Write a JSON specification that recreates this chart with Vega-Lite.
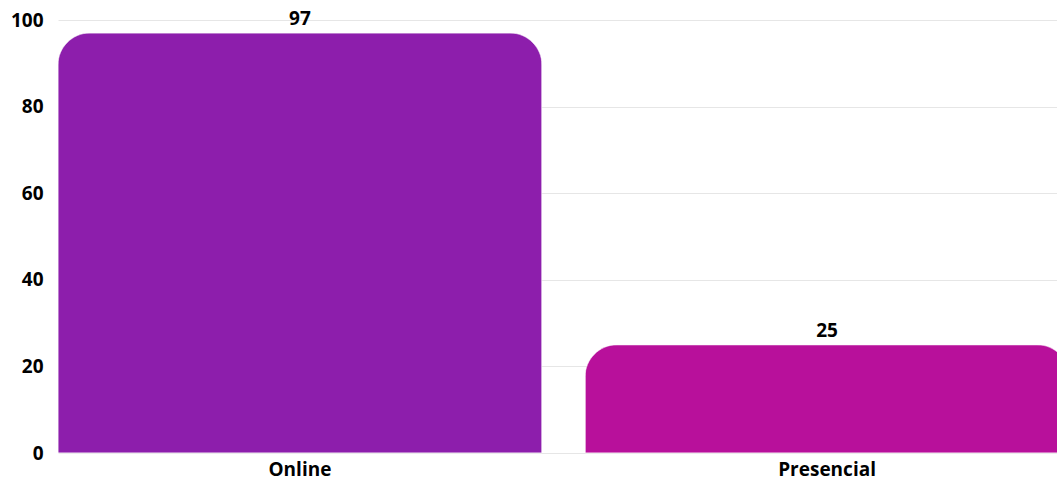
{
  "$schema": "https://vega.github.io/schema/vega-lite/v6.json",
  "autosize": "none",
  "width": 1011,
  "height": 433,
  "padding": {"left": 58, "top": 20, "right": 0, "bottom": 28},
  "background": "white",
  "config": {
    "view": {"stroke": null},
    "font": "Open Sans"
  },
  "data": {
    "values": [
      {"modalidad": "Online", "valor": 97},
      {"modalidad": "Presencial", "valor": 25}
    ]
  },
  "encoding": {
    "x": {
      "field": "modalidad",
      "type": "nominal",
      "sort": null,
      "scale": {"paddingInner": 0.082, "paddingOuter": 0},
      "axis": {
        "title": null,
        "labelAngle": 0,
        "labelFont": "Open Sans",
        "labelFontWeight": "bold",
        "labelFontSize": 19,
        "labelColor": "#000000",
        "labelPadding": 7,
        "ticks": false,
        "domain": false
      }
    },
    "y": {
      "field": "valor",
      "type": "quantitative",
      "scale": {"domain": [0, 100]},
      "axis": {
        "title": null,
        "values": [0, 20, 40, 60, 80, 100],
        "labelFont": "Open Sans",
        "labelFontWeight": "bold",
        "labelFontSize": 19,
        "labelColor": "#000000",
        "labelPadding": 15,
        "ticks": false,
        "domain": false,
        "gridColor": "#e6e6e6",
        "gridWidth": 1
      }
    }
  },
  "layer": [
    {
      "mark": {
        "type": "bar",
        "cornerRadiusTopLeft": 32,
        "cornerRadiusTopRight": 32,
        "stroke": "#ffffff",
        "strokeOpacity": 0.5,
        "strokeWidth": 1
      },
      "encoding": {
        "color": {
          "field": "modalidad",
          "type": "nominal",
          "scale": {"domain": ["Online", "Presencial"], "range": ["#8D1EAC", "#B8109B"]},
          "legend": null
        }
      }
    },
    {
      "mark": {
        "type": "text",
        "baseline": "bottom",
        "dy": -4,
        "font": "Open Sans",
        "fontWeight": "bold",
        "fontSize": 19,
        "color": "#000000"
      },
      "encoding": {
        "text": {"field": "valor", "type": "quantitative"}
      }
    }
  ]
}
